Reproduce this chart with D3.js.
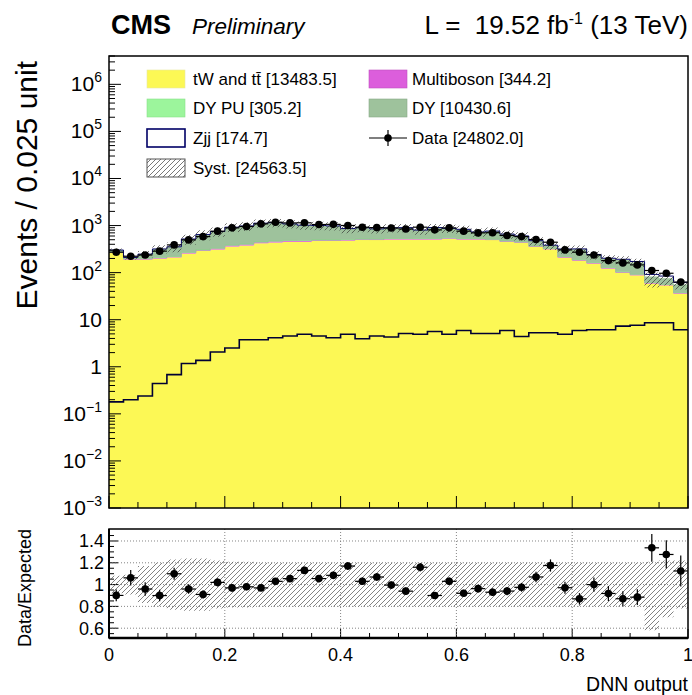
<!DOCTYPE html>
<html><head><meta charset="utf-8">
<script src="https://cdn.jsdelivr.net/npm/d3@7"></script>
<style>body{margin:0;background:#fff}svg{display:block;font-family:"Liberation Sans",Arial,Helvetica,sans-serif}</style>
</head><body><svg id="c" width="692" height="695"></svg>
<script>
// ---------------- data ----------------
const binWidth = 0.025;
const tW = [262,191,191,200,211,256,287,311,361,379,419,439,454,454,468,468,480,492,492,508,508,508,508,527,508,508,492,454,433,355,315,210,180,157,123,99,88,59,54,36];
const multiboson = [4.2,2.9,3.5,4.5,4.9,7.2,9.0,10.4,12.9,13.7,15.7,16.0,15.1,14.2,14.0,13.7,12.0,12.6,11.9,12.5,12.6,11.2,12.6,12.1,11.6,10.2,10.6,9.2,8.4,6.6,5.3,4.4,4.4,3.3,2.7,2.6,2.3,1.2,1.1,0.8];
const dyPU = [3.7,2.6,3.1,3.9,4.4,6.4,7.9,9.2,11.4,12.1,13.9,14.2,13.4,12.6,12.4,12.1,10.6,11.1,10.5,11.0,11.1,9.9,11.2,10.8,10.2,9.0,9.4,8.1,7.4,5.9,4.7,3.9,3.9,2.9,2.4,2.3,2.0,1.0,0.9,0.7];
const dy = [32.1,13.5,49.4,109.6,132.7,247.4,337.1,414.4,535.7,571.2,671.4,675.8,597.5,532.2,503.6,483.2,355.4,381.3,332.6,359.5,365.3,267.9,368.2,317.1,296.2,198.8,246.0,182.7,149.2,104.5,52.0,94.7,124.7,73.8,67.9,81.1,72.7,21.8,20.0,18.5];
const zjj = [0.18,0.20,0.24,0.44,0.68,1.17,1.37,2.06,2.5,3.76,3.76,4.15,4.5,4.9,4.5,4.15,4.9,3.95,4.5,4.3,5.1,4.9,5.6,4.9,5.9,5.1,5.1,5.9,4.4,5.3,5.3,4.9,5.9,6.1,6.1,7.3,7.6,8.6,8.6,6.1];
const dataCounts = [272,223,237,286,388,496,583,760,893,956,1086,1179,1139,1145,1053,1060,1004,924,906,887,843,924,810,893,760,699,705,615,583,505,443,304,272,237,180,161,146,111,97,63];
const systUp = [0.08,0.09,0.17,0.20,0.23,0.24,0.24,0.22,0.21,0.21,0.20,0.20,0.20,0.20,0.20,0.20,0.20,0.20,0.20,0.20,0.20,0.20,0.20,0.20,0.20,0.20,0.20,0.20,0.20,0.20,0.20,0.20,0.20,0.20,0.20,0.20,0.20,0.21,0.22,0.22];
const systDown = [0.08,0.09,0.17,0.20,0.23,0.24,0.24,0.22,0.21,0.21,0.20,0.20,0.20,0.20,0.20,0.20,0.20,0.20,0.20,0.20,0.20,0.20,0.20,0.20,0.20,0.20,0.20,0.20,0.20,0.20,0.20,0.20,0.20,0.20,0.20,0.20,0.20,0.42,0.30,0.22];
const yTickExps = [-3,-2,-1,0,1,2,3,4,5,6];
const ratioTicks = [0.6,0.8,1.0,1.2,1.4];
const ratioTickLabels = ["0.6","0.8","1","1.2","1.4"];
const xTicks = [0,0.2,0.4,0.6,0.8,1];
const xTickLabels = ["0","0.2","0.4","0.6","0.8","1"];
const legendLabels = ["tW and tt\u0304 [13483.5]","Multiboson [344.2]","DY PU [305.2]","DY [10430.6]","Zjj [174.7]","Data [24802.0]","Syst. [24563.5]"];

// ---------------- styles / layout ----------------
const COL = {tW:"#fcf855", mb:"#dc5edc", dypu:"#9cf59c", dy:"#9ec29c", zjj:"#000066"};
const X0=109, X1=688, Y0=56, Y1=508, R0=529, R1=638;
const svg = d3.select("#c");
const x = d3.scaleLinear().domain([0,1]).range([X0,X1]);
const y = d3.scaleLog().domain([1e-3,4e6]).range([Y1,Y0]);
const yr = d3.scaleLinear().domain([0.51,1.51]).range([R1,R0]);
const nB = dataCounts.length;
const edges = d3.range(nB+1).map(i=>i*binWidth);
const c1 = tW.slice();
const c2 = c1.map((v,i)=>v+multiboson[i]);
const c3 = c2.map((v,i)=>v+dyPU[i]);
const mc = c3.map((v,i)=>v+dy[i]);
const ratio = dataCounts.map((d,i)=>d/mc[i]);

const defs = svg.append("defs");
defs.append("clipPath").attr("id","cm").append("rect").attr("x",X0).attr("y",Y0).attr("width",X1-X0).attr("height",Y1-Y0);
defs.append("clipPath").attr("id","cr").append("rect").attr("x",X0).attr("y",R0).attr("width",X1-X0).attr("height",R1-R0);
function hatch(id, col, w){
  const p = defs.append("pattern").attr("id",id).attr("patternUnits","userSpaceOnUse").attr("width",5).attr("height",5);
  p.append("path").attr("d","M-1,1 l2,-2 M0,5 l5,-5 M4,6 l2,-2").attr("stroke",col).attr("stroke-width",w).attr("fill","none");
}
hatch("hm","#3a3a3a",0.7);
hatch("hr","#5a5a5a",0.75);
hatch("hl","#555",0.8);

function steps(lo, hi){
  const pts=[];
  for(let i=0;i<nB;i++){
    pts.push({x:edges[i],lo:lo[i],hi:hi[i]});
    pts.push({x:edges[i+1],lo:lo[i],hi:hi[i]});
  }
  return pts;
}
const floor = d3.range(nB).map(()=>1e-3);
const areaM = d3.area().x(d=>x(d.x)).y0(d=>y(d.lo)).y1(d=>y(d.hi));
const lineM = d3.line().x(d=>x(d.x)).y(d=>y(d.hi));
const areaR = d3.area().x(d=>x(d.x)).y0(d=>yr(d.lo)).y1(d=>yr(d.hi));

// ---------------- main panel ----------------
const gm = svg.append("g").attr("clip-path","url(#cm)");
gm.append("path").attr("d",areaM(steps(floor,c1))).attr("fill",COL.tW);
gm.append("path").attr("d",areaM(steps(c1,c2))).attr("fill",COL.mb);
gm.append("path").attr("d",areaM(steps(c2,c3))).attr("fill",COL.dypu);
gm.append("path").attr("d",areaM(steps(c3,mc))).attr("fill",COL.dy);
gm.append("path").attr("d",lineM(steps(floor,c2))).attr("fill","none").attr("stroke",COL.mb).attr("stroke-width",0.8).attr("opacity",0.8);
gm.append("path").attr("d",lineM(steps(floor,c3))).attr("fill","none").attr("stroke","#7be27b").attr("stroke-width",0.8).attr("opacity",0.8);
gm.append("path").attr("d",lineM(steps(floor,mc.map((v,i)=>v+zjj[i])))).attr("fill","none").attr("stroke",COL.zjj).attr("stroke-width",1);
gm.append("path").attr("d",areaM(steps(mc.map((v,i)=>v*(1-systDown[i])), mc.map((v,i)=>v*(1+systUp[i]))))).attr("fill","url(#hm)");
gm.append("path").attr("d",lineM(steps(floor,zjj))).attr("fill","none").attr("stroke","#000033").attr("stroke-width",1.6);
// data
const gd = gm.append("g");
dataCounts.forEach((d,i)=>{
  const cx = x(edges[i]+binWidth/2), cy = y(d), e=Math.sqrt(d);
  gd.append("line").attr("x1",x(edges[i])).attr("x2",x(edges[i+1])).attr("y1",cy).attr("y2",cy).attr("stroke","#000").attr("stroke-width",1.2);
  gd.append("line").attr("x1",cx).attr("x2",cx).attr("y1",y(d+e)).attr("y2",y(d-e)).attr("stroke","#000").attr("stroke-width",1.2);
  gd.append("circle").attr("cx",cx).attr("cy",cy).attr("r",3.8).attr("fill","#000");
});
// frame & ticks
svg.append("rect").attr("x",X0).attr("y",Y0).attr("width",X1-X0).attr("height",Y1-Y0).attr("fill","none").attr("stroke","#000").attr("stroke-width",1.5);
const tk = svg.append("g").attr("stroke","#000").attr("stroke-width",1);
yTickExps.forEach(e=>{
  const v = Math.pow(10,e);
  tk.append("line").attr("x1",X0).attr("x2",X0+12).attr("y1",y(v)).attr("y2",y(v));
  for(let m=2;m<=9;m++){
    const vm = m*v; if(vm>y.domain()[1]) break;
    tk.append("line").attr("x1",X0).attr("x2",X0+6).attr("y1",y(vm)).attr("y2",y(vm));
  }
});
for(let i=0;i<=20;i++){
  const v=i*0.05, major = (i%4===0);
  tk.append("line").attr("x1",x(v)).attr("x2",x(v)).attr("y1",Y1).attr("y2",Y1-(major?12:6));
  tk.append("line").attr("x1",x(v)).attr("x2",x(v)).attr("y1",R1).attr("y2",R1-(major?9:5));
}
const ylab = svg.append("g").attr("font-size",21).attr("text-anchor","end").attr("fill","#000");
yTickExps.forEach(e=>{
  const t = ylab.append("text").attr("x",102).attr("y",y(Math.pow(10,e))+7);
  if(e===0) t.text("1");
  else if(e===1) t.text("10");
  else { t.append("tspan").text("10"); t.append("tspan").attr("dy",-9).attr("font-size",14).text(e<0?"\u2212"+(-e):String(e)); }
});
svg.append("text").attr("transform","translate(37,61) rotate(-90)").attr("text-anchor","end").attr("font-size",30).text("Events / 0.025 unit");

// ---------------- header ----------------
svg.append("text").attr("x",111).attr("y",34).attr("font-size",27).attr("font-weight","bold").text("CMS");
svg.append("text").attr("x",192).attr("y",34).attr("font-size",22.5).attr("font-style","italic").text("Preliminary");
const lum = svg.append("text").attr("x",688).attr("y",34).attr("font-size",26).attr("text-anchor","end").attr("xml:space","preserve");
lum.append("tspan").text("L =  19.52 fb");
lum.append("tspan").attr("dy",-10).attr("font-size",16).text("-1");
lum.append("tspan").attr("dy",10).text(" (13 TeV)");

// ---------------- legend ----------------
const lg = svg.append("g").attr("font-size",17);
const rowsY = [79,108,138,168];
function box(xb,yc,fill,stroke,sw){ lg.append("rect").attr("x",xb).attr("y",yc-9).attr("width",38).attr("height",18).attr("fill",fill).attr("stroke",stroke).attr("stroke-width",sw); }
box(147,rowsY[0],COL.tW,"#e8e8a0",0.6);
box(369,rowsY[0],COL.mb,"#c050c0",0.6);
box(147,rowsY[1],COL.dypu,"#8ae08a",0.6);
box(369,rowsY[1],COL.dy,"#88a888",0.6);
box(147,rowsY[2],"#fff",COL.zjj,1.6);
box(147,rowsY[3],"url(#hl)","#555",1);
lg.append("line").attr("x1",369).attr("x2",407).attr("y1",rowsY[2]).attr("y2",rowsY[2]).attr("stroke","#000").attr("stroke-width",1.2);
lg.append("line").attr("x1",388).attr("x2",388).attr("y1",rowsY[2]-8).attr("y2",rowsY[2]+8).attr("stroke","#000").attr("stroke-width",1.2);
lg.append("circle").attr("cx",388).attr("cy",rowsY[2]).attr("r",3.8);
const lpos = [[193,0],[412,0],[193,1],[412,1],[193,2],[412,2],[193,3]];
legendLabels.forEach((s,i)=>{
  lg.append("text").attr("x",lpos[i][0]).attr("y",rowsY[lpos[i][1]]+6).text(s);
});

// ---------------- ratio panel ----------------
const gr = svg.append("g").attr("clip-path","url(#cr)");
const grid = gr.append("g").attr("stroke","#777").attr("stroke-width",0.9).attr("stroke-dasharray","1,2");
ratioTicks.forEach(v=>grid.append("line").attr("x1",X0).attr("x2",X1).attr("y1",yr(v)).attr("y2",yr(v)));
xTicks.slice(1,-1).forEach(v=>grid.append("line").attr("x1",x(v)).attr("x2",x(v)).attr("y1",R0).attr("y2",R1));
gr.append("path").attr("d",areaR(steps(systDown.map(v=>1-v), systUp.map(v=>1+v)))).attr("fill","url(#hr)");
ratio.forEach((r,i)=>{
  const cx = x(edges[i]+binWidth/2), cy = yr(r), e = Math.sqrt(dataCounts[i])/mc[i];
  gr.append("line").attr("x1",x(edges[i])).attr("x2",x(edges[i+1])).attr("y1",cy).attr("y2",cy).attr("stroke","#000").attr("stroke-width",1.2);
  gr.append("line").attr("x1",cx).attr("x2",cx).attr("y1",yr(r+e)).attr("y2",yr(r-e)).attr("stroke","#000").attr("stroke-width",1.2);
  gr.append("circle").attr("cx",cx).attr("cy",cy).attr("r",3.8).attr("fill","#000");
});
svg.append("rect").attr("x",X0).attr("y",R0).attr("width",X1-X0).attr("height",R1-R0).attr("fill","none").attr("stroke","#000").attr("stroke-width",1.5);
svg.append("line").attr("x1",X0).attr("x2",X1).attr("y1",R1).attr("y2",R1).attr("stroke","#000").attr("stroke-width",2.5);
svg.append("line").attr("x1",X0).attr("x2",X0).attr("y1",R0).attr("y2",R1).attr("stroke","#000").attr("stroke-width",2);
for(let v=0.55; v<1.5; v+=0.05){
  const major = Math.abs((v*10)%2)<0.01 || Math.abs((v*10)%2-2)<0.01;
  tk.append("line").attr("x1",X0).attr("x2",X0+(major?9:5)).attr("y1",yr(v)).attr("y2",yr(v));
}
const rl = svg.append("g").attr("font-size",18).attr("text-anchor","end");
ratioTicks.forEach((v,i)=>rl.append("text").attr("x",104).attr("y",yr(v)+6.5).text(ratioTickLabels[i]));
const xl = svg.append("g").attr("font-size",18).attr("text-anchor","middle");
xTicks.forEach((v,i)=>xl.append("text").attr("x",x(v)).attr("y",661).text(xTickLabels[i]));
svg.append("text").attr("x",688).attr("y",691).attr("font-size",19.5).attr("text-anchor","end").text("DNN output");
svg.append("text").attr("transform","translate(31,588) rotate(-90)").attr("text-anchor","middle").attr("font-size",18).text("Data/Expected");
</script></body></html>
